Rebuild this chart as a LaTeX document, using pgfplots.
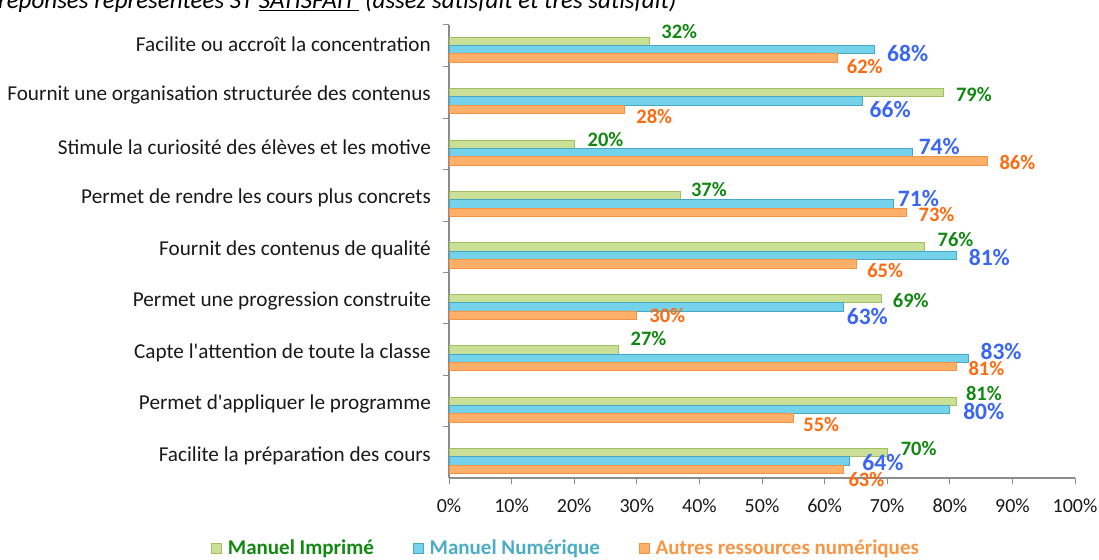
\documentclass[border=0pt]{standalone}
\usepackage{fontspec}
\setmainfont{Carlito}
\usepackage{pgfplots}
\pgfplotsset{compat=1.18}
\usepackage{pgfplotstable}

\definecolor{gFill}{HTML}{CAE096}
\definecolor{gDraw}{HTML}{A0C060}
\definecolor{bFill}{HTML}{74D2EA}
\definecolor{bDraw}{HTML}{45A8C4}
\definecolor{oFill}{HTML}{FCB06A}
\definecolor{oDraw}{HTML}{F59240}
\definecolor{gLab}{HTML}{118811}
\definecolor{bLab}{HTML}{3A66F5}
\definecolor{oLab}{HTML}{FF6A0E}
\definecolor{bLeg}{HTML}{4BACC6}
\definecolor{oLeg}{HTML}{F79646}
\definecolor{axisgray}{HTML}{8C8C8C}

% c = category (0 = bottom), v = value (%), dx/dy = label offset (pt)
\pgfplotstableread{
c v dx dy
8 32 30 9.5
7 79 30.4 -2
6 20 31.3 4.5
5 37 28.3 6.5
4 76 30.7 7.5
3 69 29.8 -2.5
2 27 30.5 11
1 81 27.8 8
0 70 31.5 4
}\tabG
\pgfplotstableread{
c v dx dy
8 68 33 -3.5
7 66 28 -8.5
6 74 27 6
5 71 25 5
4 81 33.3 -2.5
3 63 24 -9.5
2 83 32.5 6.5
1 80 34 -1.5
0 64 33.3 -1
}\tabB
\pgfplotstableread{
c v dx dy
8 62 27.6 -8.5
7 28 30 -7.5
6 86 30 -1.5
5 73 30.5 -2.5
4 65 29.3 -7
3 30 30.5 0
2 81 30.3 -2
1 55 28 -7
0 63 23 -10
}\tabO

\begin{document}
\begin{tikzpicture}[x=1pt,y=1pt]
\useasboundingbox (0,0) rectangle (1099,559);
\node[anchor=base west, inner sep=0pt, font=\fontsize{25}{28}\selectfont\itshape] at (-2,550)
  {réponses représentées ST \underline{SATISFAIT\,} (assez satisfait et très satisfait)};
\begin{axis}[
  at={(449pt,81pt)}, anchor=south west,
  scale only axis, width=626pt, height=453pt,
  bar width=8.4pt,
  xmin=0, xmax=100, ymin=-0.33, ymax=8.48,
  axis x line*=bottom, axis y line*=left,
  axis line style={-, draw=axisgray, line width=1.2pt},
  tick align=outside,
  major tick length=6pt, minor tick length=6pt,
  xtick={0,10,...,100},
  xtick style={draw=axisgray, line width=1pt},
  xticklabel={\pgfmathprintnumber{\tick}\%},
  xticklabel style={inner sep=0pt, yshift=-15pt, font=\fontsize{20}{22}\selectfont},
  /pgf/number format/assume math mode=true,
  ytick={0.11,1.11,2.11,3.11,4.11,5.11,6.11,7.11,8.11},
  yticklabels={{Facilite la préparation des cours},
               {Permet d\textquotesingle appliquer le programme},
               {Capte l\textquotesingle attention de toute la classe},
               {Permet une progression construite},
               {Fournit des contenus de qualité},
               {Permet de rendre les cours plus concrets},
               {Stimule la curiosité des élèves et les motive},
               {Fournit une organisation structurée des contenus},
               {Facilite ou accroît la concentration}},
  major y tick style={draw=none},
  minor ytick={0.667,1.667,2.667,3.667,4.667,5.667,6.667,7.667,8.48},
  minor y tick style={draw=axisgray, line width=1pt},
  yticklabel style={anchor=east, inner sep=0pt, xshift=-12pt, font=\fontsize{21.2}{23}\selectfont},
  tick label style={text=black!90},
  clip=false,
  legend columns=3,
  legend style={at={(0.187,-0.1545)}, anchor=center, draw=none, fill=none,
    font=\fontsize{21}{23}\selectfont\bfseries,
    /tikz/every odd column/.append style={column sep=4pt},
    /tikz/every even column/.append style={column sep=37pt}},
  lab/.style={draw=none, mark=none, forget plot, point meta=explicit,
    nodes near coords={\pgfmathprintnumber{\pgfplotspointmeta}\%},
    every node near coord/.append style={anchor=center, inner sep=0pt}},
]
\addplot[xbar, fill=gFill, draw=gDraw, line width=0.8pt, bar shift=8.4pt,
  legend image code/.code={\filldraw[fill=gFill, draw=gDraw] (0pt,-5pt) rectangle (10pt,5pt);}]
  table[x=v, y=c] {\tabG};
\addlegendentry{\textcolor{gLab}{Manuel Imprimé}}
\addplot[xbar, fill=bFill, draw=bDraw, line width=0.8pt, bar shift=0pt,
  legend image code/.code={\filldraw[fill=bFill, draw=bDraw] (0pt,-5pt) rectangle (10pt,5pt);}]
  table[x=v, y=c] {\tabB};
\addlegendentry{\textcolor{bLeg}{Manuel Numérique}}
\addplot[xbar, fill=oFill, draw=oDraw, line width=0.8pt, bar shift=-8.4pt,
  legend image code/.code={\filldraw[fill=oFill, draw=oDraw] (0pt,-5pt) rectangle (10pt,5pt);}]
  table[x=v, y=c] {\tabO};
\addlegendentry{\textcolor{oLeg}{Autres ressources numériques}}

\addplot[lab, every node near coord/.append style={text=gLab, font=\fontsize{20.5}{22}\selectfont\bfseries}]
  table[x expr=\thisrow{v}+\thisrow{dx}/6.26, y expr=\thisrow{c}+(8.4+\thisrow{dy})/51.42, meta=v] {\tabG};
\addplot[lab, every node near coord/.append style={text=bLab, font=\fontsize{23.5}{26}\selectfont\bfseries}]
  table[x expr=\thisrow{v}+\thisrow{dx}/6.26, y expr=\thisrow{c}+\thisrow{dy}/51.42, meta=v] {\tabB};
\addplot[lab, every node near coord/.append style={text=oLab, font=\fontsize{20.5}{22}\selectfont\bfseries}]
  table[x expr=\thisrow{v}+\thisrow{dx}/6.26, y expr=\thisrow{c}+(-8.4+\thisrow{dy})/51.42, meta=v] {\tabO};
\end{axis}
\end{tikzpicture}
\end{document}
